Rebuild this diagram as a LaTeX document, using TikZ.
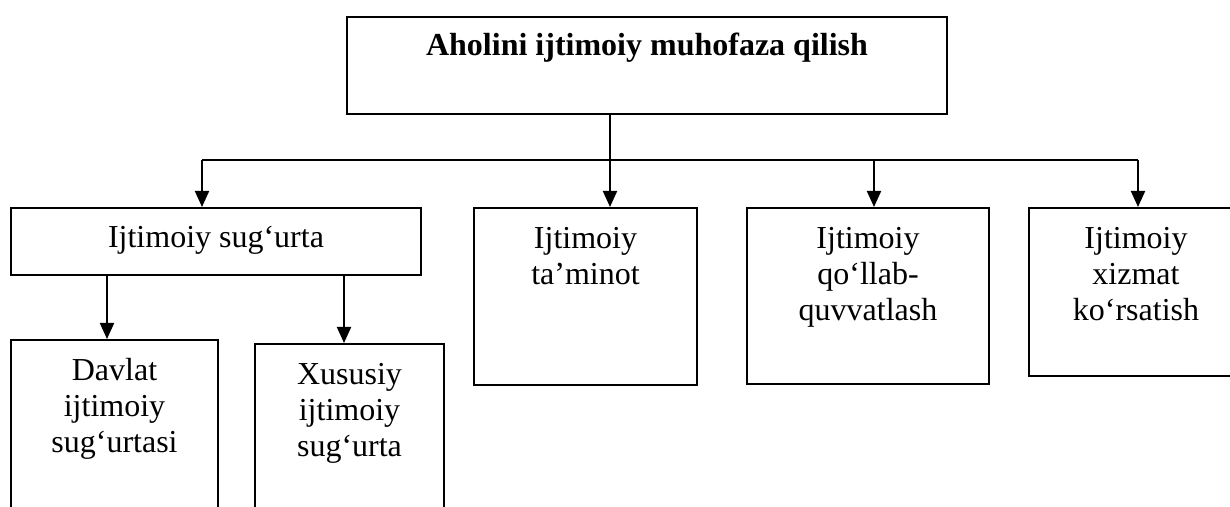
\documentclass[tikz,border=0pt]{standalone}
\usepackage{fontspec}
\setmainfont{Liberation Serif}
\usetikzlibrary{arrows.meta}
\newcommand{\boxtext}[4]{\parbox[c][#2][t]{#1}{\centering\rule{0pt}{#3}#4}}
\begin{document}
\begin{tikzpicture}[x=0.5pt,y=-0.5pt,
  box/.style={draw=black, line width=1pt, inner sep=0pt, anchor=north west,
    font=\fontsize{16pt}{18pt}\selectfont},
  conn/.style={line width=1pt},
  arr/.style={line width=1pt, -{Triangle[width=7pt,length=8pt]}}]
\clip (0,0) rectangle (1230,507);
\fill[white] (0,0) rectangle (1230,507);
% boxes
\node[box] (top) at (346,16) {\boxtext{300pt}{48.5pt}{19.5pt}{\bfseries Aholini ijtimoiy muhofaza qilish}};
\node[box] (sug) at (10,207) {\boxtext{205pt}{33.5pt}{20pt}{Ijtimoiy sug‘urta}};
\node[box] (tam) at (473,207) {\boxtext{111.5pt}{88.5pt}{20.5pt}{Ijtimoiy\\ta’minot}};
\node[box] (qol) at (746,207) {\boxtext{121pt}{88pt}{20.5pt}{Ijtimoiy\\qo‘llab-\\quvvatlash}};
\node[box] (xiz) at (1028,207) {\boxtext{107pt}{84pt}{20.5pt}{Ijtimoiy\\xizmat\\ko‘rsatish}};
\node[box] (dav) at (10,339) {\boxtext{103.5pt}{100pt}{20pt}{Davlat\\ijtimoiy\\sug‘urtasi}};
\node[box] (xus) at (254,343) {\boxtext{94.5pt}{100pt}{20pt}{Xususiy\\ijtimoiy\\sug‘urta}};
% junction coordinates
\coordinate (c0) at (202,160);
\coordinate (c1) at (610,160);
\coordinate (c2) at (874,160);
\coordinate (c3) at (1138,160);
\coordinate (d) at (107,0);
\coordinate (e) at (344,0);
% connectors
\draw[arr] (top.south -| c1) -- (tam.north -| c1);
\draw[conn] (c0) -- (c3);
\draw[arr] (c0) -- (sug.north -| c0);
\draw[arr] (c2) -- (qol.north -| c2);
\draw[arr] (c3) -- (xiz.north -| c3);
\draw[arr] (sug.south -| d) -- (dav.north -| d);
\draw[arr] (sug.south -| e) -- (xus.north -| e);
\end{tikzpicture}
\end{document}
